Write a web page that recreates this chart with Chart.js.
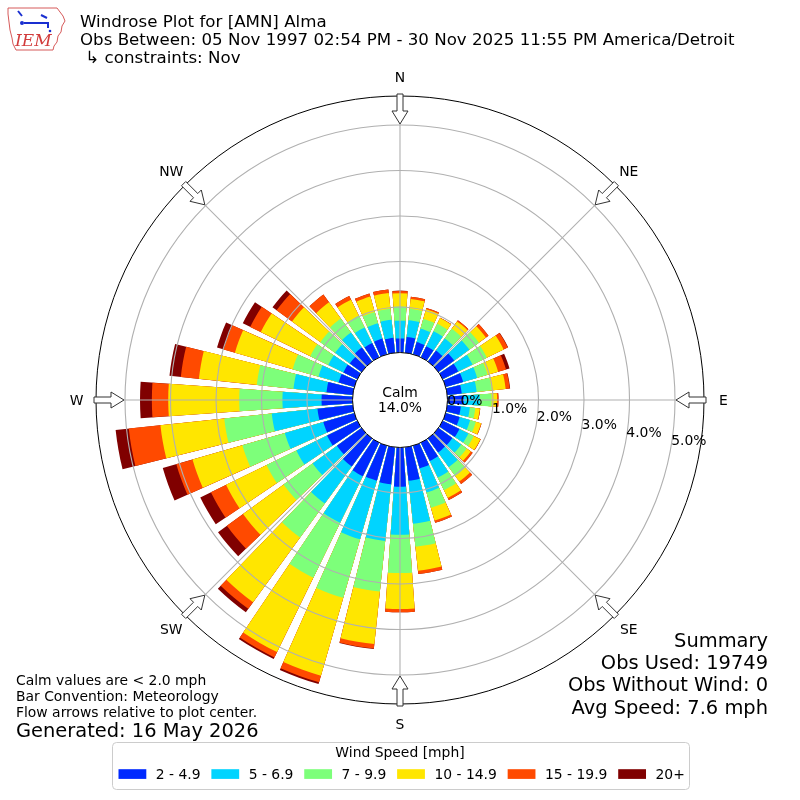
<!DOCTYPE html>
<html><head><meta charset="utf-8">
<script src="https://cdn.jsdelivr.net/npm/chart.js@4.4.1/dist/chart.umd.min.js"></script>
<style>html,body{margin:0;padding:0;background:#fff}canvas{display:block}</style>
</head><body>
<canvas id="c" width="800" height="800" style="width:800px;height:800px"></canvas>
<script>
// ---- data (percent of observations) ----
const directions = [0,10,20,30,40,50,60,70,80,90,100,110,120,130,140,150,160,170,180,190,200,210,220,230,240,250,260,270,280,290,300,310,320,330,340,350];
const speedBins = ['2 - 4.9','5 - 6.9','7 - 9.9','10 - 14.9','15 - 19.9','20+'];
const bin2to5   = [0.31,0.35,0.28,0.27,0.30,0.43,0.38,0.40,0.32,0.36,0.30,0.32,0.41,0.38,0.38,0.45,0.52,0.74,0.86,0.82,0.80,0.82,0.76,0.67,0.74,0.71,0.78,0.68,0.58,0.36,0.34,0.32,0.38,0.35,0.36,0.33];
const bin5to7   = [0.39,0.37,0.31,0.37,0.33,0.41,0.35,0.32,0.33,0.35,0.20,0.24,0.22,0.24,0.40,0.40,0.55,0.95,1.06,1.25,1.34,1.14,1.01,0.66,0.75,0.88,1.01,0.86,0.73,0.46,0.37,0.40,0.41,0.38,0.35,0.40];
const bin7to10  = [0.31,0.25,0.22,0.18,0.26,0.26,0.35,0.24,0.33,0.26,0.12,0.13,0.13,0.15,0.24,0.31,0.35,0.51,0.84,1.12,1.34,1.34,0.92,0.79,0.73,0.97,1.05,0.95,0.81,0.59,0.44,0.40,0.38,0.29,0.26,0.24];
const bin10to15 = [0.29,0.22,0.22,0.14,0.20,0.19,0.41,0.24,0.31,0.12,0.10,0.12,0.16,0.11,0.15,0.19,0.29,0.53,0.79,1.16,1.78,1.82,1.76,1.10,0.99,1.14,1.41,1.56,1.28,1.32,1.21,0.77,0.44,0.39,0.35,0.35];
const bin15to20 = [0.05,0.05,0.03,0.01,0.03,0.07,0.10,0.18,0.09,0.03,0.01,0.01,0.01,0.05,0.07,0.05,0.05,0.07,0.07,0.10,0.15,0.13,0.18,0.44,0.37,0.37,0.70,0.36,0.40,0.26,0.26,0.42,0.21,0.09,0.07,0.08];
const bin20plus = [0.01,0.00,0.00,0.00,0.00,0.00,0.01,0.08,0.01,0.00,0.00,0.00,0.00,0.00,0.00,0.00,0.00,0.00,0.00,0.01,0.04,0.04,0.09,0.24,0.26,0.31,0.29,0.26,0.25,0.15,0.18,0.11,0.00,0.00,0.00,0.00];
const calmPct = 14.0;
const ringTicks = [0,1,2,3,4,5];
const compassLabels = ['N','NE','E','SE','S','SW','W','NW'];
const titleLines = ['Windrose Plot for [AMN] Alma','Obs Between: 05 Nov 1997 02:54 PM - 30 Nov 2025 11:55 PM America/Detroit',' \u21b3 constraints: Nov'];
const noteLines = ['Calm values are < 2.0 mph','Bar Convention: Meteorology','Flow arrows relative to plot center.'];
const generatedText = 'Generated: 16 May 2026';
const summaryLines = ['Summary','Obs Used: 19749','Obs Without Wind: 0','Avg Speed: 7.6 mph'];
const legendTitle = 'Wind Speed [mph]';

// ---- styles ----
const binColors = ['#0029ff','#00d4ff','#7dff7a','#ffe600','#ff4a00','#800000'];
const BAR_DEG = 8, GAP_DEG = 2;
const R_MIN = -47.5/45.5, R_MAX = (304-47.5)/45.5;
const FONT = '"DejaVu Sans", "Liberation Sans", sans-serif';

const speedBinValues = [bin2to5,bin5to7,bin7to10,bin10to15,bin15to20,bin20plus];
const cumulative = speedBinValues.map((_, k) => directions.map((d, i) =>
  speedBinValues.slice(0, k+1).reduce((s, arr) => s + arr[i], 0)));

const labels = directions.flatMap(d => [String(d), '']);
const datasets = cumulative.map((vals, k) => ({
  label: speedBins[k],
  data: vals.flatMap(v => [v, 0]),
  backgroundColor: c => (c.dataIndex % 2 === 0 ? binColors[k] : 'rgba(0,0,0,0)'),
  angle: c => (c.dataIndex % 2 === 0 ? BAR_DEG : GAP_DEG),
  borderWidth: 0
}));

function pt(s, deg, r) {
  const a = deg * Math.PI / 180;
  return {x: s.xCenter + r * Math.sin(a), y: s.yCenter - r * Math.cos(a)};
}

const deco = {
  id: 'deco',
  afterDatasetsDraw(chart) {
    const s = chart.scales.r, ctx = chart.ctx;
    ctx.save();
    ctx.beginPath();
    ctx.arc(s.xCenter, s.yCenter, s.getDistanceFromCenterForValue(0), 0, Math.PI * 2);
    ctx.fillStyle = '#fff';
    ctx.fill();
    ctx.restore();
  },
  afterDraw(chart) {
    const s = chart.scales.r, ctx = chart.ctx;
    const r0 = s.getDistanceFromCenterForValue(0);
    const rMax = s.getDistanceFromCenterForValue(R_MAX);
    ctx.save();
    // spokes
    ctx.strokeStyle = '#b0b0b0'; ctx.lineWidth = 1.1;
    for (let k = 0; k < 8; k++) {
      const a = pt(s, k*45, r0), b = pt(s, k*45, rMax);
      ctx.beginPath(); ctx.moveTo(a.x, a.y); ctx.lineTo(b.x, b.y); ctx.stroke();
    }
    // compass arrows
    const shape = [[276,0],[289,8],[289,3],[306,3],[306,-3],[289,-3],[289,-8]];
    for (let k = 0; k < 8; k++) {
      const a = k*45*Math.PI/180;
      const ux = Math.sin(a), uy = -Math.cos(a), vx = Math.cos(a), vy = Math.sin(a);
      ctx.beginPath();
      shape.forEach(([r, w], i) => {
        const x = s.xCenter + r*ux + w*vx, y = s.yCenter + r*uy + w*vy;
        if (i === 0) ctx.moveTo(x, y); else ctx.lineTo(x, y);
      });
      ctx.closePath();
      ctx.fillStyle = '#fff'; ctx.fill();
      ctx.strokeStyle = '#333'; ctx.lineWidth = 1; ctx.stroke();
    }
    // compass labels
    ctx.fillStyle = '#000';
    ctx.font = '13.9px ' + FONT;
    ctx.textAlign = 'center'; ctx.textBaseline = 'alphabetic';
    compassLabels.forEach((lab, k) => {
      const p = pt(s, k*45, 323.5);
      ctx.fillText(lab, p.x, p.y + 5.1);
    });
    // ring tick labels
    ringTicks.forEach(v => {
      const p = pt(s, 100, s.getDistanceFromCenterForValue(v));
      ctx.fillText(v.toFixed(1) + '%', p.x + 18, p.y - 8 + 5.1);
    });
    // calm
    ctx.fillText('Calm', s.xCenter, s.yCenter - 3.2);
    ctx.fillText(calmPct.toFixed(1) + '%', s.xCenter, s.yCenter + 11.8);
    // title
    ctx.textAlign = 'left';
    ctx.font = '16.67px ' + FONT;
    titleLines.forEach((t, i) => ctx.fillText(t, 80, 26.5 + i*18.4));
    // notes
    ctx.font = '13.9px ' + FONT;
    noteLines.forEach((t, i) => ctx.fillText(t, 16, 685 + i*16.2));
    ctx.font = '19.44px ' + FONT;
    ctx.fillText(generatedText, 16, 737);
    // summary
    ctx.textAlign = 'right';
    summaryLines.forEach((t, i) => ctx.fillText(t, 768, 647 + i*22.2));
    // legend
    ctx.beginPath();
    if (ctx.roundRect) ctx.roundRect(112.5, 742.5, 577, 47, 4); else ctx.rect(112.5, 742.5, 577, 47);
    ctx.fillStyle = 'rgba(255,255,255,0.8)'; ctx.fill();
    ctx.strokeStyle = '#cccccc'; ctx.lineWidth = 1; ctx.stroke();
    ctx.font = '13.9px ' + FONT;
    ctx.fillStyle = '#000'; ctx.textAlign = 'center';
    ctx.fillText(legendTitle, 400, 757);
    ctx.textAlign = 'left';
    let x = 118.5;
    speedBins.forEach((lab, i) => {
      ctx.fillStyle = binColors[i];
      ctx.fillRect(x, 769.2, 27.8, 9.7);
      ctx.fillStyle = '#000';
      ctx.fillText(lab, x + 37.3, 779);
      x += 37.3 + ctx.measureText(lab).width + 10.8;
    });
    // logo (IEM)
    ctx.beginPath();
    const iowa = [[8,8],[57,8],[60,12],[63,16],[65,21],[62,26],[61,32],[58,36],[57,42],[54,46],[53,50],[16,50],[13,44],[12,38],[10,30],[9,22],[8,14]];
    iowa.forEach(([px,py],i) => i ? ctx.lineTo(px,py) : ctx.moveTo(px,py));
    ctx.closePath();
    ctx.strokeStyle = '#d65a5a'; ctx.lineWidth = 1; ctx.stroke();
    ctx.strokeStyle = '#1a2fd0'; ctx.lineWidth = 2;
    ctx.beginPath(); ctx.moveTo(24,23); ctx.lineTo(48,23); ctx.lineTo(48,28); ctx.stroke();
    ctx.beginPath(); ctx.moveTo(18,11); ctx.lineTo(22,16); ctx.stroke();
    ctx.beginPath(); ctx.moveTo(41,15); ctx.lineTo(47,18); ctx.stroke();
    ctx.fillStyle = '#1a2fd0';
    ctx.beginPath(); ctx.arc(22,23,2,0,Math.PI*2); ctx.fill();
    ctx.beginPath(); ctx.arc(50,31,1.3,0,Math.PI*2); ctx.fill();
    ctx.fillStyle = '#d23c3c';
    ctx.font = 'italic 17px "DejaVu Serif", "Liberation Serif", serif';
    ctx.fillText('IEM', 15, 46);
    ctx.restore();
  }
};

new Chart(document.getElementById('c'), {
  type: 'polarArea',
  data: { labels, datasets },
  options: {
    responsive: false,
    animation: false,
    events: [],
    layout: { padding: 96 },
    plugins: { legend: { display: false }, tooltip: { enabled: false }, title: { display: false } },
    scales: {
      r: {
        startAngle: -BAR_DEG/2,
        min: R_MIN,
        max: R_MAX,
        ticks: { display: false, stepSize: 1 },
        afterBuildTicks: scale => { scale.ticks = [R_MIN, ...ringTicks, R_MAX].map(v => ({value: v})); },
        grid: {
          circular: true,
          z: 1,
          color: c => (c.tick && (c.tick.value === 0 || c.tick.value === R_MAX)) ? '#000000' : '#b0b0b0',
          lineWidth: c => (c.tick && (c.tick.value === 0 || c.tick.value === R_MAX)) ? 1 : 1.1
        },
        angleLines: { display: false },
        pointLabels: { display: false }
      }
    }
  },
  plugins: [deco]
});
</script>
</body></html>
